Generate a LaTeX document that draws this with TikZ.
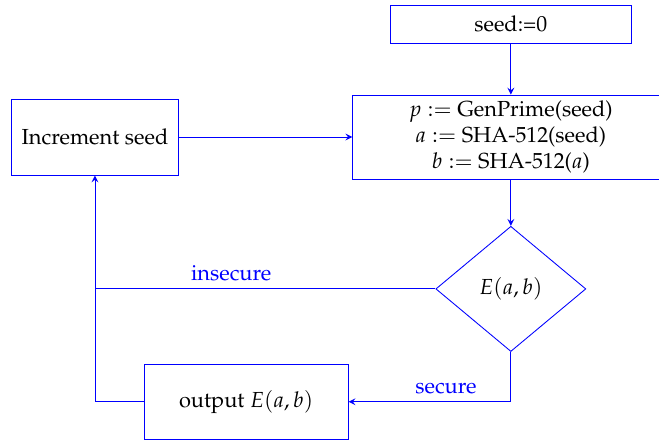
\documentclass[tikz,border=0pt]{standalone}
\usepackage[T1]{fontenc}
\usepackage{mathpazo}
\usepackage{tikz}
\usetikzlibrary{shapes.geometric}

\begin{document}
\begin{tikzpicture}[>=stealth,
    blk/.style={draw=blue, rectangle, align=center, inner sep=0pt},
    dec/.style={draw=blue, diamond, inner sep=0pt, minimum width=2.42cm, minimum height=2.02cm}]
        \useasboundingbox (0,0) rectangle (10.63,-7.145);
        \node[blk, minimum width=3.9cm, minimum height=0.613cm] (seed) at (8.24,-0.387) {seed:=0};
        \node[blk, minimum width=5.1cm, minimum height=1.355cm] (gen) at (8.24,-2.21) {$p :=$ GenPrime(seed)\\ $a :=$ SHA-512(seed)\\ $b :=$ SHA-512($a$)};
        \node[blk, minimum width=2.68cm, minimum height=1.226cm] (inc) at (1.532,-2.21) {Increment seed};
        \node[dec] (test) at (8.24,-4.66) {$E(a,b)$};
        \node[blk, minimum width=3.29cm, minimum height=1.21cm] (out) at (3.97,-6.48) {output $E(a,b)$};
        \coordinate (turn) at (1.532,-4.66);
        \coordinate (low) at (1.532,-6.48);
        \draw [->, blue] (seed) -- (gen);
        \draw [->, blue] (inc) -- (gen);
        \draw [->, blue] (gen) -- (test);
        \draw [->, blue] (test) -- node [above, pos=0.6] {insecure} (turn) -- (inc);
        \draw [->, blue] (test) |- node [above, pos=0.7] {secure} (out);
        \draw [blue] (out) -- (low) -- (turn);
\end{tikzpicture}
\end{document}
